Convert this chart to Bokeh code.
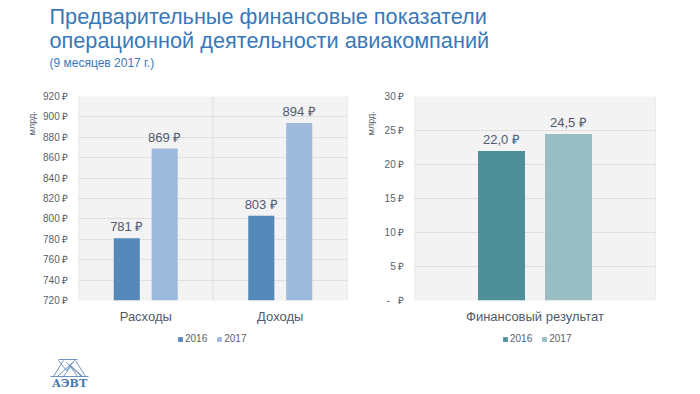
from math import pi
from bokeh.plotting import figure
from bokeh.models import (ColumnDataSource, FactorRange, Range1d, LabelSet, Legend,
                          LegendItem, Span, BoxAnnotation, SingleIntervalTicker,
                          CustomJSTickFormatter)
from bokeh.transform import dodge
from bokeh.layouts import column, row
from bokeh.core.properties import value
from bokeh.embed import file_html
from bokeh.resources import INLINE

# ---------------- data ----------------
title_lines = ["Предварительные финансовые показатели",
               "операционной деятельности авиакомпаний"]
subtitle = "(9 месяцев 2017 г.)"
years = ["2016", "2017"]
ops_categories = ["Расходы", "Доходы"]
ops_2016 = [781, 803]
ops_2017 = [869, 894]
fin_categories = ["Финансовый результат"]
fin_2016 = [22.0]
fin_2017 = [24.5]
unit_label = "млрд."
logo_text = "АЭВТ"

FONT = "Liberation Sans"
TITLE_COLOR = "#3a78b8"
TEXT_COLOR = "#4f5b6e"
TICK_COLOR = "#5a6068"
GRID_COLOR = "#e0e0e0"
CHART_H = 250
LEG_H = 22


def fmt_int(v):
    return f"{v:.0f} ₽"


def fmt_dec(v):
    return f"{v:.1f}".replace(".", ",") + " ₽"


def blank(width, height, x_end, y_start, y_end):
    f = figure(width=width, height=height, x_range=Range1d(0, x_end),
               y_range=Range1d(y_start, y_end), output_backend="svg",
               toolbar_location=None, x_axis_type=None, y_axis_type=None, min_border=0)
    f.title.visible = False
    f.grid.visible = False
    f.outline_line_color = None
    return f


def bar_chart(cats, v16, v17, colors, y_start, y_end, interval, width,
              border_left, border_right, fmt_label, tick_js, offset, bar_w):
    src = ColumnDataSource(dict(cat=cats, y16=v16, y17=v17,
                                l16=[fmt_label(v) for v in v16],
                                l17=[fmt_label(v) for v in v17]))
    p = figure(x_range=FactorRange(*cats, range_padding=0, factor_padding=0),
               y_range=Range1d(y_start, y_end), width=width, height=CHART_H,
               output_backend="svg", toolbar_location=None,
               min_border_left=border_left, min_border_right=border_right,
               min_border_top=16, min_border_bottom=30)
    p.title.visible = False
    p.outline_line_color = None
    p.background_fill_color = "#f6f6f6"
    p.border_fill_color = "white"
    p.add_layout(BoxAnnotation(fill_color="#f7f7f7", fill_alpha=1.0, hatch_pattern="x",
                               hatch_color="#e6e6e6", hatch_scale=4, hatch_weight=0.6,
                               line_color=None, level="image"))

    p.vbar(x=dodge("cat", -offset, range=p.x_range), top="y16", width=bar_w,
           source=src, fill_color=colors[0], line_color=None)
    p.vbar(x=dodge("cat", offset, range=p.x_range), top="y17", width=bar_w,
           source=src, fill_color=colors[1], line_color=None)

    for key, off in (("16", -offset), ("17", offset)):
        p.add_layout(LabelSet(x=dodge("cat", off, range=p.x_range), y="y" + key,
                              text="l" + key, source=src, text_align="center",
                              text_baseline="bottom", y_offset=4,
                              text_font=value(FONT), text_font_size="13px",
                              text_color=TEXT_COLOR))

    for b in range(len(cats) + 1):
        p.add_layout(Span(location=b, dimension="height", line_color=GRID_COLOR,
                          line_width=1, level="underlay"))

    p.xgrid.visible = False
    p.ygrid.grid_line_color = GRID_COLOR
    p.ygrid.grid_line_width = 1

    p.yaxis.ticker = SingleIntervalTicker(interval=interval)
    p.yaxis.formatter = CustomJSTickFormatter(code=tick_js)
    for ax in (p.xaxis, p.yaxis):
        ax.axis_line_color = None
        ax.major_tick_line_color = None
        ax.minor_tick_line_color = None
        ax.major_tick_out = 0
        ax.major_tick_in = 0
        ax.minor_tick_out = 0
        ax.minor_tick_in = 0
        ax.major_label_text_font = FONT
    p.yaxis.major_label_text_font_size = "10px"
    p.yaxis.major_label_text_color = TICK_COLOR
    p.yaxis.major_label_standoff = 10
    p.xaxis.major_label_text_font_size = "13px"
    p.xaxis.major_label_text_color = TEXT_COLOR
    p.xaxis.major_label_standoff = 8
    return p


def unit_strip(width, x_center):
    s = blank(width, CHART_H, width, 0, CHART_H)
    s.text(x=[x_center], y=[CHART_H - 18], text=[unit_label], angle=pi / 2,
           text_align="right", text_baseline="middle", text_font=value(FONT),
           text_font_size="9px", text_color=TEXT_COLOR)
    return s


def legend_strip(width, colors, legend_x):
    s = blank(width, LEG_H, width, 0, LEG_H)
    # zero-size swatch renderers: they only supply the legend glyph colours
    rs = [s.vbar(x=[0], top=[0], bottom=[0], width=0, fill_color=c, line_color=None)
          for c in colors]
    s.add_layout(Legend(items=[LegendItem(label=y, renderers=[r]) for y, r in zip(years, rs)],
                        orientation="horizontal", location=(legend_x, 8),
                        glyph_width=6, glyph_height=6, label_text_font=FONT,
                        label_text_font_size="10px", label_text_color=TICK_COLOR,
                        label_standoff=2, label_height=9, spacing=9, padding=0,
                        margin=0, border_line_color=None, background_fill_alpha=0))
    return s


ops_colors = ["#5589b9", "#9dbadd"]
fin_colors = ["#4e8f98", "#98bec4"]

left = bar_chart(ops_categories, ops_2016, ops_2017, ops_colors,
                 720, 920, 20, 318, 38, 11, fmt_int,
                 'return tick + " ₽";', 0.141, 0.194)
right = bar_chart(fin_categories, fin_2016, fin_2017, fin_colors,
                  0, 30, 5, 322, 36, 45, fmt_dec,
                  'return tick == 0 ? "-\u00a0\u00a0\u00a0₽" : tick + " ₽";',
                  0.139, 0.195)

left_block = column(row(unit_strip(40, 31), left), legend_strip(358, ops_colors, 177))
right_block = column(row(unit_strip(20, 12), right), legend_strip(342, fin_colors, 144))

# ---------------- header ----------------
header = blank(700, 80, 700, 80, 0)
header.text(x=[49, 49], y=[16, 40], text=title_lines, text_font=value(FONT),
            text_font_size="21.7px", text_color=TITLE_COLOR, text_baseline="middle")
header.text(x=[49], y=[62], text=[subtitle], text_font=value(FONT),
            text_font_size="12px", text_color=TITLE_COLOR, text_baseline="middle")

# ---------------- footer / logo ----------------
footer = blank(700, 42, 700, 42, 0)
LOGO = "#4a78b0"
logo_xs = [[50, 88], [53, 63], [85, 75], [58, 77], [57, 72], [81, 66], [82, 70], [63, 70, 77],
           [58, 66, 74]]
logo_ys = [[24, 24], [24, 8], [24, 8], [7, 7], [24, 10], [24, 10], [24, 13], [24, 14, 24],
           [8, 18, 8]]
footer.multi_line(xs=logo_xs, ys=logo_ys, line_color=LOGO, line_width=0.8)
footer.text(x=[69], y=[31], text=[logo_text], text_font=value("DejaVu Serif"),
            text_font_size="11px", text_font_style="bold", text_color=LOGO,
            text_align="center", text_baseline="middle")

layout = column(header, row(left_block, right_block), footer)
open("out.html", "w").write(file_html(layout, INLINE))
